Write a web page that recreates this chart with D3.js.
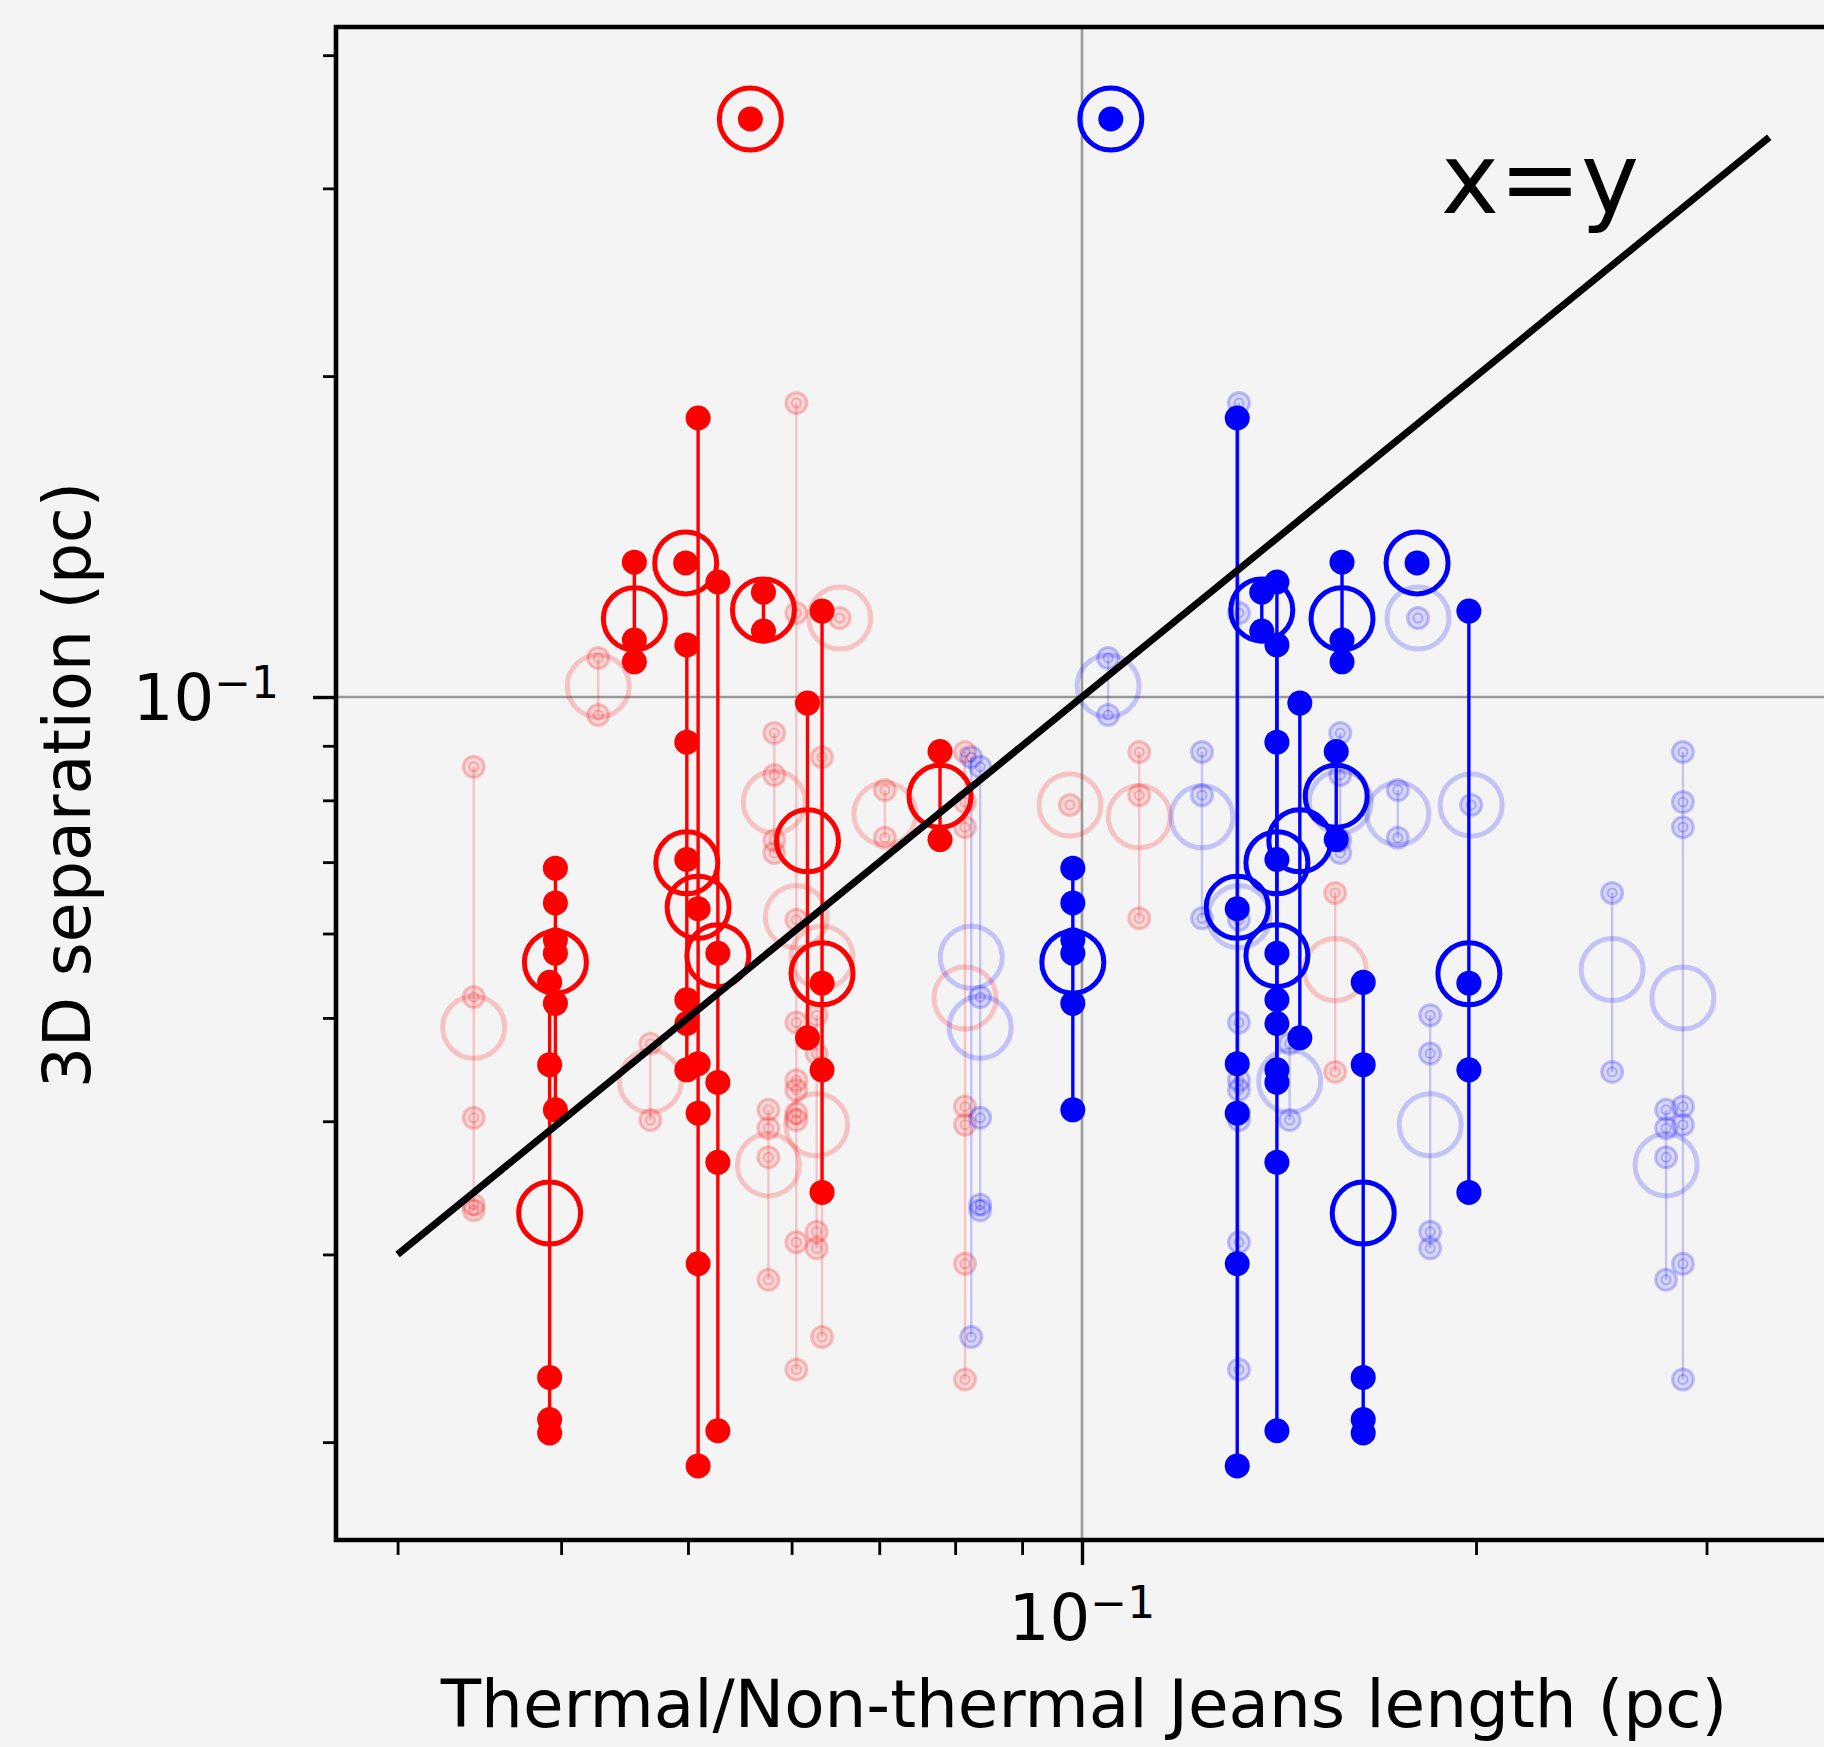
<!DOCTYPE html>
<html>
<head>
<meta charset="utf-8">
<script src="https://cdn.jsdelivr.net/npm/d3@7"></script>
<style>
  html, body { margin: 0; padding: 0; background: #f4f4f4; }
  svg { display: block; }
</style>
</head>
<body>
<script>
// ---- Data -------------------------------------------------------------
// Main sample: one entry per clump.
// Thermal Jeans length (pc), non-thermal Jeans length (pc),
// 3D separations of the fragments (pc) and their mean separation (pc).
const mainLamT  = [0.0558, 0.0498, 0.0455, 0.0571, 0.0779, 0.0617, 0.0499, 0.0509, 0.0396, 0.0527, 0.0633, 0.0392];
const mainLamNT = [0.1052, 0.1803, 0.1580, 0.1372, 0.1564, 0.1467, 0.1409, 0.1314, 0.0984, 0.1409, 0.1975, 0.1640];
const mainSeps = [
  [0.3485],
  [0.1336],
  [0.1338, 0.1131, 0.1079],
  [0.1254, 0.1153],
  [0.0889, 0.0735],
  [0.0987, 0.0479],
  [0.1119, 0.0907, 0.0704, 0.0520, 0.0494, 0.0447],
  [0.1827, 0.0633, 0.0453, 0.0407, 0.0294, 0.0190],
  [0.0691, 0.0641, 0.0592, 0.0575, 0.0516, 0.0410],
  [0.1282, 0.0575, 0.0435, 0.0366, 0.0205],
  [0.1204, 0.0539, 0.0447, 0.0343],
  [0.0540, 0.0452, 0.0230, 0.0210, 0.0204]
];
const mainMeanSep = [0.3485, 0.1336, 0.1184, 0.1207, 0.0807, 0.0733, 0.0699, 0.0635, 0.0564, 0.0572, 0.0550, 0.0328];

// Comparison sample, drawn translucent.
const compLamT  = [0.0427, 0.0653, 0.0343, 0.0468, 0.0576, 0.0605, 0.1106, 0.0979, 0.0707, 0.0582, 0.0814, 0.0627, 0.0633, 0.1561];
const compLamNT = [0.1047, 0.1806, 0.0836, 0.1441, 0.2794, 0.1318, 0.1235, 0.1983, 0.1743, 0.1575, 0.2878, 0.1845, 0.0823, 0.2541];
const compSeps = [
  [0.1088, 0.0962],
  [0.1186],
  [0.0860, 0.0523, 0.0403, 0.0334, 0.0330],
  [0.0473, 0.0401],
  [0.0410, 0.0394, 0.0370, 0.0284],
  [0.1887, 0.1199, 0.0618, 0.0495, 0.0437, 0.0428, 0.0407, 0.0401, 0.0308, 0.0234],
  [0.0888, 0.0809, 0.0620],
  [0.0792],
  [0.0818, 0.0738],
  [0.0925, 0.0845, 0.0734, 0.0714],
  [0.0888, 0.0797, 0.0755, 0.0413, 0.0397, 0.0294, 0.0229],
  [0.0503, 0.0463, 0.0315, 0.0304],
  [0.0878, 0.0251],
  [0.0655, 0.0445]
];
const compMeanSep = [0.1024, 0.1186, 0.0490, 0.0436, 0.0364, 0.0622, 0.0772, 0.0792, 0.0777, 0.0797, 0.0522, 0.0397, 0.0570, 0.0555];

// Axis ticks and the one-to-one reference line
const xMajorTicks = [0.1];
const xMinorTicks = [0.03, 0.04, 0.05, 0.06, 0.07, 0.08, 0.09, 0.2, 0.3];
const yMajorTicks = [0.1];
const yMinorTicks = [0.02, 0.03, 0.04, 0.05, 0.06, 0.07, 0.08, 0.09, 0.2, 0.3, 0.4];
const identityEnds = [0.03, 0.335];

// ---- Layout -----------------------------------------------------------
const W = 1824, H = 1747;
const plot = { left: 336, right: 1832, top: 27, bottom: 1540 };
const RED = "#ff0000", BLUE = "#0000ff";
const FONT = "'DejaVu Sans', 'Liberation Sans', sans-serif";

const x = d3.scaleLog().domain([0.02692, 0.3741]).range([plot.left, plot.right]);
const y = d3.scaleLog().domain([0.01619, 0.4251]).range([plot.bottom, plot.top]);

const svg = d3.select("body").append("svg")
  .attr("width", W).attr("height", H)
  .attr("viewBox", `0 0 ${W} ${H}`);

svg.append("rect").attr("width", W).attr("height", H).attr("fill", "#f4f4f4");

svg.append("defs").append("clipPath").attr("id", "plot-clip")
  .append("rect")
  .attr("x", plot.left).attr("y", plot.top)
  .attr("width", plot.right - plot.left).attr("height", plot.bottom - plot.top);

const area = svg.append("g").attr("clip-path", "url(#plot-clip)");

// Reference lines at 0.1 pc on both axes
area.append("line")
  .attr("x1", x(0.1)).attr("x2", x(0.1))
  .attr("y1", plot.top).attr("y2", plot.bottom)
  .attr("stroke", "#999999").attr("stroke-width", 2.6);
area.append("line")
  .attr("x1", plot.left).attr("x2", plot.right)
  .attr("y1", y(0.1)).attr("y2", y(0.1))
  .attr("stroke", "#999999").attr("stroke-width", 2.6);

// One clump column: range line, fragment separations, mean-separation ring
function drawClumps(g, lams, seps, means, color, faded) {
  const op = faded ? 0.2 : 1;
  lams.forEach((lam, i) => {
    const cx = x(lam);
    const s = seps[i];
    const col = g.append("g");
    if (s.length > 1) {
      col.append("line")
        .attr("x1", cx).attr("x2", cx)
        .attr("y1", y(d3.max(s))).attr("y2", y(d3.min(s)))
        .attr("stroke", color).attr("stroke-width", faded ? 2.4 : 3.4)
        .attr("stroke-opacity", op);
    }
    s.forEach(v => {
      if (faded) {
        col.append("circle")
          .attr("cx", cx).attr("cy", y(v)).attr("r", 10.5)
          .attr("fill", color).attr("fill-opacity", 0.12)
          .attr("stroke", color).attr("stroke-opacity", 0.22).attr("stroke-width", 3);
        col.append("circle")
          .attr("cx", cx).attr("cy", y(v)).attr("r", 4.5)
          .attr("fill", "none")
          .attr("stroke", color).attr("stroke-opacity", 0.22).attr("stroke-width", 2);
      } else {
        col.append("circle")
          .attr("cx", cx).attr("cy", y(v)).attr("r", 12.5)
          .attr("fill", color);
      }
    });
    col.append("circle")
      .attr("cx", cx).attr("cy", y(means[i])).attr("r", 31)
      .attr("fill", "none")
      .attr("stroke", color).attr("stroke-width", 5)
      .attr("stroke-opacity", faded ? 0.2 : 1);
  });
}

const compLayer = area.append("g");
drawClumps(compLayer, compLamT, compSeps, compMeanSep, RED, true);
drawClumps(compLayer, compLamNT, compSeps, compMeanSep, BLUE, true);

const mainLayer = area.append("g");
drawClumps(mainLayer, mainLamT, mainSeps, mainMeanSep, RED, false);
drawClumps(mainLayer, mainLamNT, mainSeps, mainMeanSep, BLUE, false);

// x = y line and its label
area.append("line")
  .attr("x1", x(identityEnds[0])).attr("y1", y(identityEnds[0]))
  .attr("x2", x(identityEnds[1])).attr("y2", y(identityEnds[1]))
  .attr("stroke", "#000").attr("stroke-width", 7);
svg.append("text")
  .attr("x", 1441).attr("y", 213)
  .attr("font-family", FONT).attr("font-size", 98)
  .attr("fill", "#000")
  .text("x=y");

// ---- Axes -------------------------------------------------------------
function styleTicks(sel, width) {
  sel.select(".domain").remove();
  sel.selectAll(".tick line").attr("stroke", "#000").attr("stroke-width", width);
  sel.selectAll(".tick text").remove();
}

const xAxisMinor = svg.append("g").attr("transform", `translate(0,${plot.bottom})`)
  .call(d3.axisBottom(x).tickValues(xMinorTicks).tickSize(15).tickFormat(""));
styleTicks(xAxisMinor, 2.8);
const xAxisMajor = svg.append("g").attr("transform", `translate(0,${plot.bottom})`)
  .call(d3.axisBottom(x).tickValues(xMajorTicks).tickSize(25).tickFormat(""));
styleTicks(xAxisMajor, 3.4);

const yAxisMinor = svg.append("g").attr("transform", `translate(${plot.left},0)`)
  .call(d3.axisLeft(y).tickValues(yMinorTicks).tickSize(13).tickFormat(""));
styleTicks(yAxisMinor, 2.8);
const yAxisMajor = svg.append("g").attr("transform", `translate(${plot.left},0)`)
  .call(d3.axisLeft(y).tickValues(yMajorTicks).tickSize(23).tickFormat(""));
styleTicks(yAxisMajor, 3.4);

// Power-of-ten tick labels
function powLabel(g, px, py, anchor, v) {
  const e = Math.round(Math.log10(v));
  const t = g.append("text")
    .attr("x", px).attr("y", py)
    .attr("text-anchor", anchor)
    .attr("font-family", FONT).attr("font-size", 64)
    .attr("fill", "#000");
  t.append("tspan").text("10");
  t.append("tspan").attr("dy", -22).attr("font-size", 44).text(e < 0 ? "\u2212" + Math.abs(e) : String(e));
}
xMajorTicks.forEach(v => powLabel(svg, x(v), 1640, "middle", v));
yMajorTicks.forEach(v => powLabel(svg, 279, y(v) + 23, "end", v));

// Spines
svg.append("path")
  .attr("d", `M${plot.right},${plot.top}H${plot.left}V${plot.bottom}H${plot.right}`)
  .attr("fill", "none").attr("stroke", "#000").attr("stroke-width", 4.6)
  .attr("stroke-linecap", "square");

// Axis titles
svg.append("text")
  .attr("x", 1084).attr("y", 1727)
  .attr("text-anchor", "middle")
  .attr("font-family", FONT).attr("font-size", 66)
  .attr("fill", "#000")
  .text("Thermal/Non-thermal Jeans length (pc)");

svg.append("text")
  .attr("transform", `translate(90,785) rotate(-90)`)
  .attr("text-anchor", "middle")
  .attr("font-family", FONT).attr("font-size", 65)
  .attr("fill", "#000")
  .text("3D separation (pc)");
</script>
</body>
</html>
